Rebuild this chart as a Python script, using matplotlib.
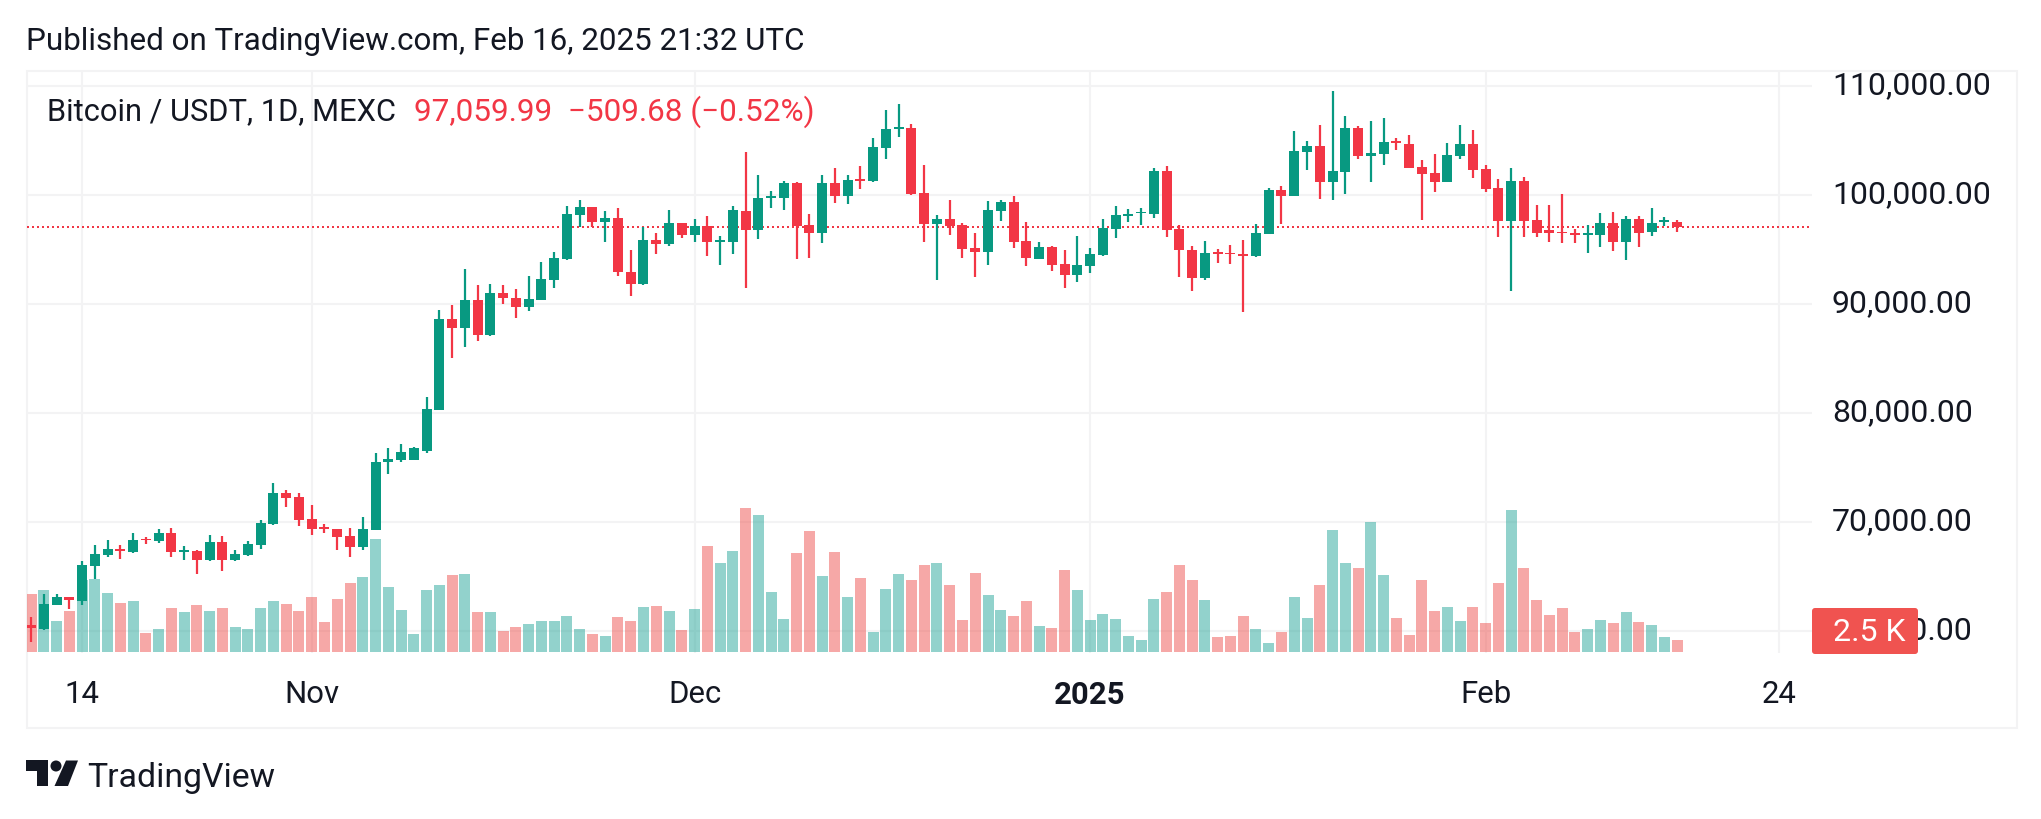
import numpy as np
import pandas as pd
import matplotlib
matplotlib.use("Agg")
import matplotlib.pyplot as plt
import matplotlib.dates as mdates
from matplotlib.patches import FancyBboxPatch, Rectangle, Polygon, Circle
from matplotlib.transforms import IdentityTransform, ScaledTranslation

plt.rcParams['font.family'] = ['Roboto', 'DejaVu Sans']

W, H = 2041, 820

dates = pd.date_range("2024-10-10", periods=130, freq="D")

opens = [60550,60220,62430,63155,62790,65980,66995,67500,67285,68480,68300,68990,67285,67320,66520,68150,
 66520,66995,67900,69860,72650,72285,70250,69570,69350,68700,67720,69280,75470,75690,75690,76520,80290,88590,
 87790,90330,87175,90980,90510,89710,90360,92210,94130,98150,98880,97500,97860,92900,91810,95830,95510,97390,
 96300,97140,95690,95690,98515,96780,99710,99710,101050,97210,96490,101050,99890,101450,101270,104310,106050,
 106090,100145,97320,97750,97210,95110,94750,98515,99310,95725,94130,95180,93620,92650,93480,94490,96885,98040,
 98300,98260,102140,96850,94930,92390,94750,94680,94570,94385,96410,100400,99890,103910,104460,101160,102100,
 106090,103550,103730,104930,104640,102500,101960,101160,103550,104640,102320,100580,97610,101230,97650,96740,
 96600,96450,96340,96300,97390,95690,97750,96600,97460,97460]
highs = [61270,63370,63370,63155,66410,67865,68335,67865,69025,68660,69350,69420,67790,67430,68805,68700,
 67430,68260,70180,73590,72940,72650,71560,69820,69350,69420,70440,76310,76780,77140,76850,81450,89420,89860,
 93150,91700,91780,91700,91340,92540,93800,94710,98950,99530,98880,98480,98770,94890,97070,96490,98590,97430,
 97750,98010,96200,98950,103880,101780,100330,101230,101120,98225,101780,102430,101780,102610,105180,107750,
 108300,106450,102680,98120,99490,97430,96490,99385,99490,99860,97460,95650,95330,94890,96200,95110,97750,
 98950,98660,98770,102460,102610,97210,95290,95725,95040,95360,95830,97280,100580,100760,105800,104890,106380,
 109490,107170,106270,106740,106990,105180,105430,103150,103730,104710,106380,105900,102680,101410,102460,
 101600,99020,99020,100040,96850,97210,98300,98400,98010,98010,98770,97930,97650]
lows = [58990,60075,62430,62070,62430,64785,66780,66630,67175,68010,68080,66815,66520,65255,66450,65545,
 66450,66920,67540,69750,71415,69640,68840,69020,67470,66815,67470,69240,74420,75510,75690,76340,80220,85040,
 86050,86600,87070,90000,88730,89350,90360,91450,94020,97070,97070,95690,92570,90730,91740,94570,95330,96050,
 95690,94385,93590,94570,91450,95940,98800,98620,94130,94200,95580,99240,99170,100540,101160,103300,105290,
 99960,95690,92210,96300,94200,92465,93590,97610,95145,93480,94130,93010,91450,92030,92830,94385,96050,97500,
 97250,97860,96120,92465,91200,92210,93770,93660,89280,94310,96410,97320,99890,102280,99600,99530,100070,
 103300,101160,102720,104090,102460,97680,100250,101160,103300,101560,100250,96120,91200,96120,96120,95690,
 95580,95580,94670,95220,94860,94020,95220,96230,97140,96600]
closes = [60260,62500,63155,62865,66090,67065,67500,67320,68335,68335,68990,67285,67465,66520,68150,66520,
 67065,67970,69890,72650,72210,70220,69390,69390,68660,67720,69350,75470,75800,76410,76740,80330,88590,87790,
 90330,87175,90980,90510,89710,90440,92250,94170,98225,98840,97500,97830,92940,91810,95830,95510,97430,96300,
 97140,95690,95830,98590,96780,99675,99890,101050,97140,96490,101050,99890,101340,101300,104350,105980,106200,
 100040,97320,97750,97140,95040,94750,98590,99310,95690,94200,95180,93590,92650,93550,94530,96920,98120,98260,
 98440,102140,96780,94930,92390,94640,94600,94530,94420,96450,100400,99890,103990,104460,101160,102140,106090,
 103550,103840,104820,104780,102460,101920,101160,103620,104640,102280,100540,97610,101230,97610,96490,96520,
 96450,96340,96490,97390,95690,97750,96490,97390,97650,97060]
volumes_k = [12.2,13.1,6.5,8.7,15.2,15.3,12.4,10.3,10.75,4.0,4.8,9.25,8.4,9.9,8.7,9.25,5.25,4.8,9.25,10.75,10.1,
 8.7,11.6,6.3,11.2,14.5,15.75,23.8,13.7,8.8,3.75,13.1,14.1,16.25,16.4,8.4,8.4,4.4,5.25,5.9,6.5,6.5,7.6,4.8,3.75,
 3.3,7.3,6.5,9.5,9.7,8.7,4.6,9.1,22.3,18.75,21.25,30.3,28.8,12.7,6.9,20.8,25.5,16.0,21.1,11.6,15.6,4.2,13.25,16.4,
 15.2,18.3,18.75,14.1,6.75,16.7,12.0,8.8,7.6,10.75,5.5,5.1,17.25,13.1,6.75,8.0,6.9,3.3,2.5,11.2,12.7,18.3,15.2,
 10.9,3.2,3.3,7.6,4.8,1.9,4.2,11.6,7.2,14.1,25.7,18.75,17.7,27.4,16.25,7.2,3.6,15.2,8.7,9.5,6.5,9.5,6.1,14.5,29.9,
 17.7,10.9,7.75,9.25,4.2,4.8,6.75,6.1,8.4,6.3,5.7,3.2,2.5]

price_ticks = [60000, 70000, 80000, 90000, 100000, 110000]
last_price = 97060
date_ticks = ["2024-10-14", "2024-11-01", "2024-12-01", "2025-01-01", "2025-02-01", "2025-02-24"]
date_labels = ["14", "Nov", "Dec", "2025", "Feb", "24"]

UP, DOWN = '#089981', '#F23645'
UPV, DOWNV = '#26A69A', '#EF5350'
GRID = '#F3F3F4'
INK = '#131722'

# pane geometry in pixels
PL, PR, PT, PB = 26.5, 1812.0, 72.0, 654.0
PX_PER_DAY = 12.76
X0_PX = 31.0
PX_PER_USD = 0.01091
Y100K_PX = 195.7
PX_PER_K = 4.74
VOL0_PX = 653.0

fig = plt.figure(figsize=(W/100, H/100), dpi=100, facecolor='white')
rect = [PL/W, 1-PB/H, (PR-PL)/W, (PB-PT)/H]
ax_g = fig.add_axes(rect, zorder=0)
ax_v = fig.add_axes(rect, zorder=1, sharex=ax_g)
ax_c = fig.add_axes(rect, zorder=2, sharex=ax_g)

x = mdates.date2num(dates)
xlim = (x[0] + (PL-X0_PX)/PX_PER_DAY, x[0] + (PR-X0_PX)/PX_PER_DAY)
ylim = (100000 - (PB-Y100K_PX)/PX_PER_USD, 100000 + (Y100K_PX-PT)/PX_PER_USD)
ax_g.set_xlim(xlim)
ax_g.set_ylim(ylim)
ax_c.set_ylim(ylim)
ax_v.set_ylim((VOL0_PX-PB)/PX_PER_K, (VOL0_PX-PT)/PX_PER_K)

o, h, l, c = map(np.array, (opens, highs, lows, closes))
vol = np.array(volumes_k)
up = c >= o

# volume
ax_v.bar(x, vol, width=11/PX_PER_DAY, color=[UPV if u else DOWNV for u in up], alpha=0.5, linewidth=0)
ax_v.axis('off')

# candles
ax_c.axis('off')
ax_c.axhline(last_price, color=DOWN, lw=1.44, ls=(0, (1, 1.5)), zorder=1)
ax_c.vlines(x, l, h, colors=[UP if u else DOWN for u in up], lw=1.6, zorder=2)
ax_c.bar(x, np.abs(c-o), bottom=np.minimum(o, c), width=10/PX_PER_DAY,
         color=[UP if u else DOWN for u in up], linewidth=0, zorder=3)

# grid and scales
for s in ax_g.spines.values():
    s.set_visible(False)
ax_g.set_yticks(price_ticks)
ax_g.set_yticklabels([f"{t:,.2f}" for t in price_ticks])
ax_g.yaxis.tick_right()
ax_g.set_xticks(mdates.date2num(pd.to_datetime(date_ticks)))
ax_g.set_xticklabels(date_labels)
ax_g.grid(True, color=GRID, lw=1.5)
ax_g.set_axisbelow(True)
ax_g.tick_params(axis='y', length=0, pad=14.3, labelsize=23, labelcolor=INK)
ax_g.tick_params(axis='x', length=0, pad=19, labelsize=22.4, labelcolor=INK)
up_shift = ScaledTranslation(0, 4.3/100, fig.dpi_scale_trans)
for lab in ax_g.get_yticklabels():
    lab.set_transform(lab.get_transform() + up_shift)
for lab in ax_g.get_xticklabels():
    if lab.get_text() == "2025":
        lab.set_fontweight('bold')

# outer border
px = IdentityTransform()
def Y(py):
    return H - py
fig.add_artist(Rectangle((26.5, Y(729)), 2017-26.5, 729-72, transform=px, fill=False,
                         edgecolor=GRID, lw=1.5, zorder=0.5))

# texts
fig.text(26/W, 1-41.5/H, "Published on TradingView.com, Feb 16, 2025 21:32 UTC",
         fontsize=22.6, color=INK, va='center', ha='left')
fig.text(47/W, 1-112/H, "Bitcoin / USDT, 1D, MEXC", fontsize=22.25, color=INK, va='center', ha='left', zorder=5)
fig.text(413.5/W, 1-112/H, "97,059.99  \u2212509.68 (\u22120.52%)", fontsize=22.65, color=DOWN, va='center', ha='left', zorder=5)

# volume badge
fig.add_artist(FancyBboxPatch((1812+2, Y(655)+2), 106-4, 46-4, boxstyle="round,pad=2,rounding_size=3",
                              transform=px, facecolor='#F05350', edgecolor='none', zorder=5))
fig.text(1869/W, 1-633/H, "2.5 K", fontsize=23, color='white', va='center', ha='center', zorder=6)

# logo
fig.add_artist(Polygon([(26, Y(761)), (48, Y(761)), (48, Y(787)), (37, Y(787)), (37, Y(772)), (26, Y(772))],
                       closed=True, transform=px, facecolor=INK, edgecolor='none', zorder=5))
fig.add_artist(Circle((56, Y(767)), 5.5, transform=px, facecolor=INK, edgecolor='none', zorder=5))
fig.add_artist(Polygon([(66, Y(761.5)), (78, Y(761.5)), (68, Y(787)), (54.5, Y(787))],
                       closed=True, transform=px, facecolor=INK, edgecolor='none', zorder=5))
fig.text(87.5/W, 1-778/H, "TradingView", fontsize=24.3, color=INK, va='center', ha='left')

fig.savefig("out.png", dpi=100, facecolor='white')
